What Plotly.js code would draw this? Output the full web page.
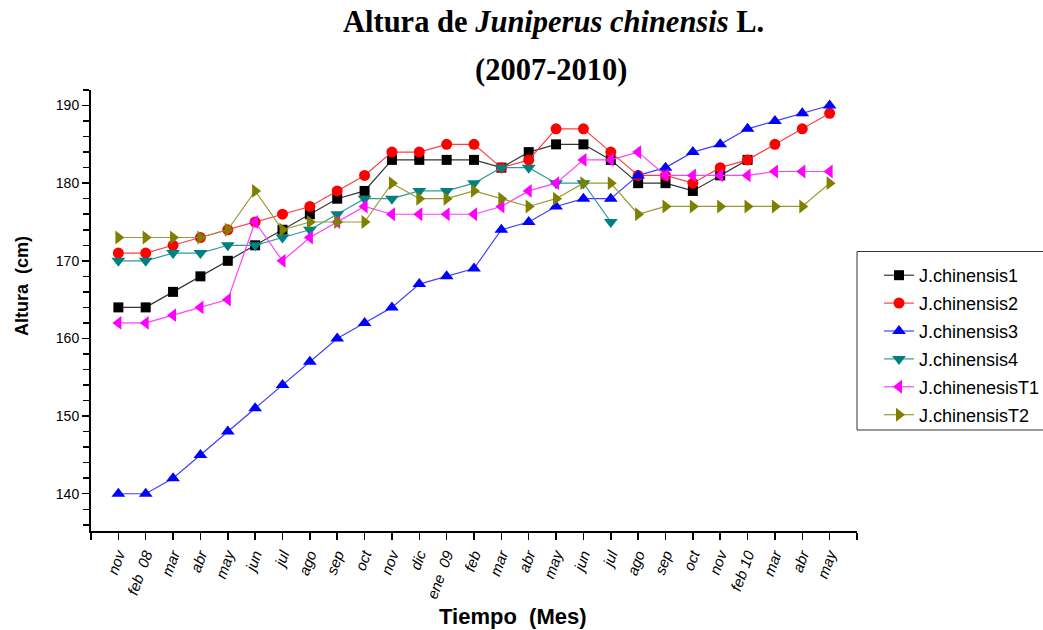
<!DOCTYPE html>
<html>
<head>
<meta charset="utf-8">
<script src="https://cdn.plot.ly/plotly-3.0.1.min.js"></script>
<style>html,body{margin:0;padding:0;background:#fff;}#chart{width:1043px;height:630px;}</style>
</head>
<body>
<div id="chart"></div>
<script>
const categories = ["nov","feb  08","mar","abr","may","jun","jul","ago","sep","oct","nov","dic","ene  09","feb","mar","abr","may","jun","jul","ago","sep","oct","nov","feb 10","mar","abr","may"];
const seriesNames = ["J.chinensis1","J.chinensis2","J.chinensis3","J.chinensis4","J.chinenesisT1","J.chinensisT2"];
const chinensis1 = [164,164,166,168,170,172,174,176,178,179,183,183,183,183,182,184,185,185,183,180,180,179,181,183];
const chinensis2 = [171,171,172,173,174,175,176,177,179,181,184,184,185,185,182,183,187,187,184,181,181,180,182,183,185,187,189];
const chinensis3 = [140,140,142,145,148,151,154,157,160,162,164,167,168,169,174,175,177,178,178,181,182,184,185,187,188,189,190];
const chinensis4 = [170,170,171,171,172,172,173,174,176,178,178,179,179,180,182,182,180,180,175];
const chinenesisT1 = [162,162,163,164,165,175,170,173,175,177,176,176,176,176,177,179,180,183,183,184,181,181,181,181,181.5,181.5,181.5];
const chinensisT2 = [173,173,173,173,174,179,174,175,175,175,180,178,178,179,178,177,178,180,180,176,177,177,177,177,177,177,180];
const yTickVals = [140,150,160,170,180,190];

const allSeries = [chinensis1, chinensis2, chinensis3, chinensis4, chinenesisT1, chinensisT2];
const colors = ["#000000","#ff0000","#0000ff","#008080","#ff00ff","#808000"];
const lineColors = ["#333333","#ff4040","#4040ff","#339999","#ff40ff","#999933"];
const symbols = ["square","circle","triangle-up","triangle-down","triangle-left","triangle-right"];
const sizes = [10,11,12,12,12,12];

const traces = allSeries.map((vals, k) => ({
  type: "scatter",
  mode: "lines+markers",
  name: seriesNames[k],
  legendgroup: "g" + k,
  x: vals.map((_, i) => i),
  y: vals,
  line: {color: lineColors[k], width: 1.2},
  marker: {color: colors[k], symbol: symbols[k], size: sizes[k], line: {width: 0}},
  cliponaxis: false
}));

const xTickVals = [-1].concat(categories.map((_, i) => i), [categories.length]);
const xTickText = [""].concat(categories, [""]);

const W = 1043, H = 630;
const L = 91, R = 857, T = 90, B = 531;
const px = v => (v - L) / (R - L);
const py = v => (B - v) / (B - T);

const layout = {
  width: W, height: H,
  paper_bgcolor: "#ffffff", plot_bgcolor: "#ffffff",
  margin: {l: L, r: W - R, t: T, b: H - B},
  showlegend: true,
  legend: {
    xref: "container", yref: "container",
    x: 879 / W, xanchor: "left", y: 1 - 257 / H, yanchor: "top",
    borderwidth: 0, bgcolor: "rgba(0,0,0,0)",
    font: {family: "Liberation Sans, Arial, sans-serif", size: 18, color: "#000"},
    tracegroupgap: 1.5
  },
  shapes: [
    {type: "rect", xref: "paper", yref: "paper", x0: px(857), x1: px(1060), y0: py(430), y1: py(251.5),
     line: {color: "#333333", width: 1}, fillcolor: "rgba(0,0,0,0)", layer: "below"}
  ],
  xaxis: {
    range: [-1, categories.length],
    tickmode: "array", tickvals: xTickVals, ticktext: xTickText,
    tickangle: -70,
    tickfont: {family: "Liberation Sans, Arial, sans-serif", size: 15, color: "#000", style: "italic"},
    ticks: "outside", ticklen: 7, tickwidth: 1.5, tickcolor: "#000",
    showline: true, linecolor: "#000", linewidth: 2,
    showgrid: false, zeroline: false
  },
  yaxis: {
    range: [135.2, 192],
    tickmode: "array", tickvals: yTickVals,
    tickfont: {family: "Liberation Sans, Arial, sans-serif", size: 14, color: "#000"},
    ticks: "outside", ticklen: 7, tickwidth: 1.5, tickcolor: "#000",
    minor: {tickmode: "linear", tick0: 136, dtick: 2, ticks: "outside", ticklen: 6, tickwidth: 1.5, tickcolor: "#000", showgrid: false},
    showline: true, linecolor: "#000", linewidth: 2,
    showgrid: false, zeroline: false
  },
  annotations: [
    {text: "<b>Altura de <i>Juniperus chinensis</i> L.</b>", xref: "paper", yref: "paper", x: px(553), y: py(22), xanchor: "center", yanchor: "middle", showarrow: false,
     font: {family: "Liberation Serif, Times New Roman, serif", size: 30.5, color: "#000"}},
    {text: "<b>(2007-2010)</b>", xref: "paper", yref: "paper", x: px(551), y: py(70), xanchor: "center", yanchor: "middle", showarrow: false,
     font: {family: "Liberation Serif, Times New Roman, serif", size: 30.5, color: "#000"}},
    {text: "<b>Tiempo  (Mes)</b>", xref: "paper", yref: "paper", x: px(513), y: py(616), xanchor: "center", yanchor: "middle", showarrow: false,
     font: {family: "Liberation Sans, Arial, sans-serif", size: 22, color: "#000"}},
    {text: "<b>Altura  (cm)</b>", xref: "paper", yref: "paper", x: px(22), y: py(286), xanchor: "center", yanchor: "middle", showarrow: false, textangle: -90,
     font: {family: "Liberation Sans, Arial, sans-serif", size: 18, color: "#000"}}
  ]
};

Plotly.newPlot("chart", traces, layout, {displayModeBar: false, staticPlot: true});
</script>
</body>
</html>
